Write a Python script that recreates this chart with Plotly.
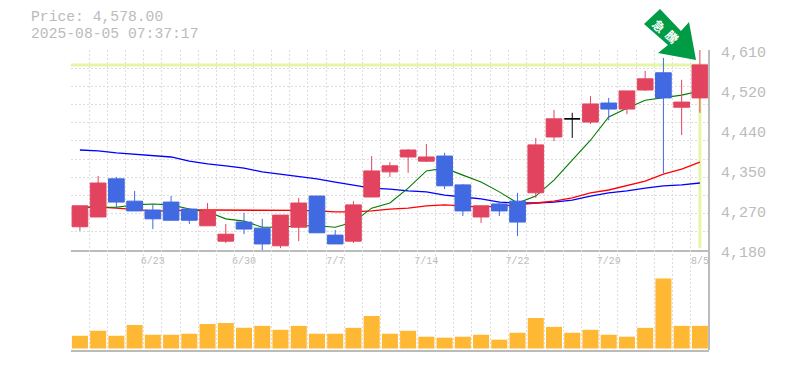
import plotly.graph_objects as go

# The page body adds an 8 px margin, so the figure is 8 px smaller and placed coordinates are offset.
PAGE = 8
W, H = 785 - PAGE, 370 - PAGE
PLOT_L, PLOT_R = 70.8 - PAGE, 709 - PAGE
MAIN_T, MAIN_B, VOL_B = 50 - PAGE, 250 - PAGE, 350 - PAGE
P_MIN, P_MAX = 4180, 4610

dates = ["6/17","6/18","6/19","6/20","6/23","6/24","6/25","6/26","6/27","6/30",
         "7/1","7/2","7/3","7/4","7/7","7/8","7/9","7/10","7/11","7/14",
         "7/15","7/16","7/17","7/18","7/22","7/23","7/24","7/25","7/28","7/29",
         "7/30","7/31","8/1","8/4","8/5"]
opens  = [4230,4251,4333,4285,4266,4283,4268,4232,4199,4240,4227,4189,4229,4296,4212,4199,4294,4348,4380,4371,
          4382,4320,4251,4279,4285,4303,4423,4462,4455,4496,4483,4524,4561,4487,4507]
closes = [4275,4324,4283,4264,4247,4244,4244,4264,4214,4225,4193,4255,4281,4217,4193,4277,4350,4361,4395,4380,
          4318,4264,4275,4264,4240,4406,4462,4462,4494,4483,4522,4548,4507,4498,4578]
highs  = [4275,4339,4337,4307,4277,4296,4270,4281,4236,4260,4247,4255,4292,4296,4223,4285,4382,4369,4397,4408,
          4389,4322,4275,4285,4303,4421,4481,4475,4511,4507,4522,4565,4593,4546,4610]
lows   = [4221,4251,4272,4264,4225,4244,4236,4232,4195,4214,4180,4184,4199,4217,4193,4195,4294,4337,4346,4369,
          4311,4253,4238,4253,4210,4292,4414,4421,4451,4459,4472,4522,4345,4427,4475]
ma_short = [4272,4272,4272,4277,4279,4277,4268,4262,4247,4242,4229,4229,4232,4232,4229,4240,4270,4281,4313,4350,
            4356,4341,4326,4305,4281,4296,4330,4373,4416,4466,4485,4502,4507,4513,4522]
ma_mid = [4272,4272,4270,4267,4264,4264,4266,4266,4266,4266,4265,4265,4265,4264,4262,4262,4264,4268,4270,4275,
          4277,4275,4272,4275,4277,4281,4285,4292,4303,4309,4318,4328,4343,4354,4369]
ma_long = [4395,4393,4389,4386,4384,4380,4371,4365,4361,4356,4348,4343,4339,4333,4326,4320,4313,4311,4307,4305,
           4298,4294,4290,4283,4281,4281,4283,4287,4296,4303,4307,4313,4318,4320,4324]
volumes = [13,18,13,24,14,14,15,25,26,21,23,19,23,15,15,21,33,15,18,12,11,12,14,9,16,31,22,16,19,14,12,21,71,23,23]
last_price = 4578
date_ticks = ["6/23","6/30","7/7","7/14","7/22","7/29","8/5"]
price_tick_vals = [4610,4524,4438,4352,4266,4180]
price_tick_text = ["4,610","4,520","4,440","4,350","4,270","4,180"]

RED, BLUE, BLACK = "#E2445F", "#4169E1", "#000000"
GRID, AXIS, TEXT = "#DDDDDD", "#BBBBBB", "#BBBBBB"
MONO = "Liberation Mono"

idx = list(range(len(dates)))
slot_edges = [i - 0.5 for i in range(len(dates) + 1)]
y_grid = [P_MIN + k * (P_MAX - P_MIN) / 11 for k in range(12)]
doji = [i for i in idx if opens[i] == closes[i]]
regular = [i for i in idx if opens[i] != closes[i]]

fig = go.Figure()
# price reference lines and moving averages sit under the candles
fig.add_trace(go.Scatter(x=[-0.5, 34.5], y=[last_price, last_price], mode="lines",
                         line=dict(color="#E6F5A8", width=3), xaxis="x", yaxis="y"))
fig.add_trace(go.Scatter(x=[34, 34], y=[last_price, P_MIN + 4], mode="lines",
                         line=dict(color="#E6F5A8", width=3), xaxis="x", yaxis="y"))
for vals, col, w in [(ma_long, "#0000FF", 1.3), (ma_mid, "#FF0000", 1.3), (ma_short, "#007A00", 1.1)]:
    fig.add_trace(go.Scatter(x=idx, y=vals, mode="lines", line=dict(color=col, width=w),
                             xaxis="x", yaxis="y"))

fig.add_trace(go.Candlestick(
    x=regular, open=[opens[i] for i in regular], high=[highs[i] for i in regular],
    low=[lows[i] for i in regular], close=[closes[i] for i in regular],
    increasing=dict(line=dict(color=RED, width=1), fillcolor=RED),
    decreasing=dict(line=dict(color=BLUE, width=1), fillcolor=BLUE),
    whiskerwidth=0, xaxis="x", yaxis="y3"))
fig.add_trace(go.Candlestick(
    x=doji, open=[opens[i] for i in doji], high=[highs[i] for i in doji],
    low=[lows[i] for i in doji], close=[closes[i] for i in doji],
    increasing=dict(line=dict(color=BLACK, width=1), fillcolor=BLACK),
    decreasing=dict(line=dict(color=BLACK, width=1), fillcolor=BLACK),
    whiskerwidth=0, xaxis="x", yaxis="y3"))
fig.add_trace(go.Bar(x=idx, y=volumes, width=0.88, marker=dict(color="#FFB833", line_width=0),
                     xaxis="x2", yaxis="y2"))

minor_x = dict(tickvals=slot_edges, showgrid=True, gridcolor=GRID, griddash="2px,2px",
               gridwidth=1, ticklen=0)


def px(x):
    return (x - PAGE) / W


def py(y):
    return 1 - (y - PAGE) / H


annotations = [
    dict(text="Price: 4,578.00", xref="paper", yref="paper", x=px(30), y=py(17.2),
         xanchor="left", yanchor="middle", showarrow=False, borderpad=0,
         font=dict(family=MONO, size=14.7, color=TEXT)),
    dict(text="2025-08-05 07:37:17", xref="paper", yref="paper", x=px(30), y=py(33.7),
         xanchor="left", yanchor="middle", showarrow=False, borderpad=0,
         font=dict(family=MONO, size=14.7, color=TEXT)),
    dict(text="急", xref="paper", yref="paper", x=px(659.5), y=py(25), textangle=45,
         xanchor="center", yanchor="middle", showarrow=False, borderpad=0,
         font=dict(family="Noto Sans CJK JP", size=12, color="#FFFFFF", weight="bold")),
    dict(text="騰", xref="paper", yref="paper", x=px(673), y=py(36), textangle=45,
         xanchor="center", yanchor="middle", showarrow=False, borderpad=0,
         font=dict(family="Noto Sans CJK JP", size=12, color="#FFFFFF", weight="bold")),
]
for v, t in zip(price_tick_vals, price_tick_text):
    annotations.append(dict(text=t, xref="paper", yref="y", x=px(720), y=v, yshift=-3,
                            xanchor="left", yanchor="middle", showarrow=False, borderpad=0,
                            font=dict(family=MONO, size=15, color=TEXT)))

arrow = [(660, 9), (681, 31), (689, 22), (696, 60), (658, 53), (668, 45), (644, 24)]
path = "M " + " L ".join(f"{px(x):.5f},{py(y):.5f}" for x, y in arrow) + " Z"

fig.update_layout(
    width=W, height=H, autosize=False, margin=dict(l=0, r=0, t=0, b=0),
    paper_bgcolor="#FFFFFF", plot_bgcolor="#FFFFFF", showlegend=False,
    boxgap=0.14, boxgroupgap=0,
    xaxis=dict(domain=[PLOT_L / W, PLOT_R / W], range=[-0.5, 34.5], anchor="y",
               tickvals=[dates.index(d) for d in date_ticks], ticktext=date_ticks,
               showgrid=False, ticks="", showline=True, linecolor=AXIS, linewidth=2,
               tickfont=dict(family=MONO, size=10, color=TEXT), minor=minor_x,
               rangeslider=dict(visible=False), zeroline=False),
    xaxis2=dict(domain=[PLOT_L / W, PLOT_R / W], range=[-0.5, 34.5], anchor="y2",
                showticklabels=False, showgrid=False, ticks="", showline=True,
                linecolor=AXIS, linewidth=2, minor=minor_x, zeroline=False),
    yaxis=dict(domain=[1 - MAIN_B / H, 1 - MAIN_T / H], range=[P_MIN, P_MAX], anchor="x",
               showticklabels=False, ticks="", showgrid=False, zeroline=False, showline=False,
               minor=dict(tickvals=y_grid, showgrid=True, gridcolor=GRID, griddash="2px,2px",
                          gridwidth=1, ticklen=0)),
    yaxis2=dict(domain=[1 - VOL_B / H, 1 - MAIN_B / H], range=[-1.5, 100], anchor="x2",
                showticklabels=False, ticks="", showgrid=False, zeroline=False, showline=False),
    yaxis3=dict(overlaying="y", range=[P_MIN, P_MAX], visible=False),
    annotations=annotations,
    shapes=[
        dict(type="path", path=path, xref="paper", yref="paper",
             fillcolor="#009B45", line_width=0, layer="above"),
        dict(type="line", xref="paper", yref="paper", x0=PLOT_R / W, x1=PLOT_R / W,
             y0=1 - VOL_B / H, y1=1 - MAIN_T / H, line=dict(color=AXIS, width=2), layer="above"),
    ],
)
fig.write_html("out.html")
